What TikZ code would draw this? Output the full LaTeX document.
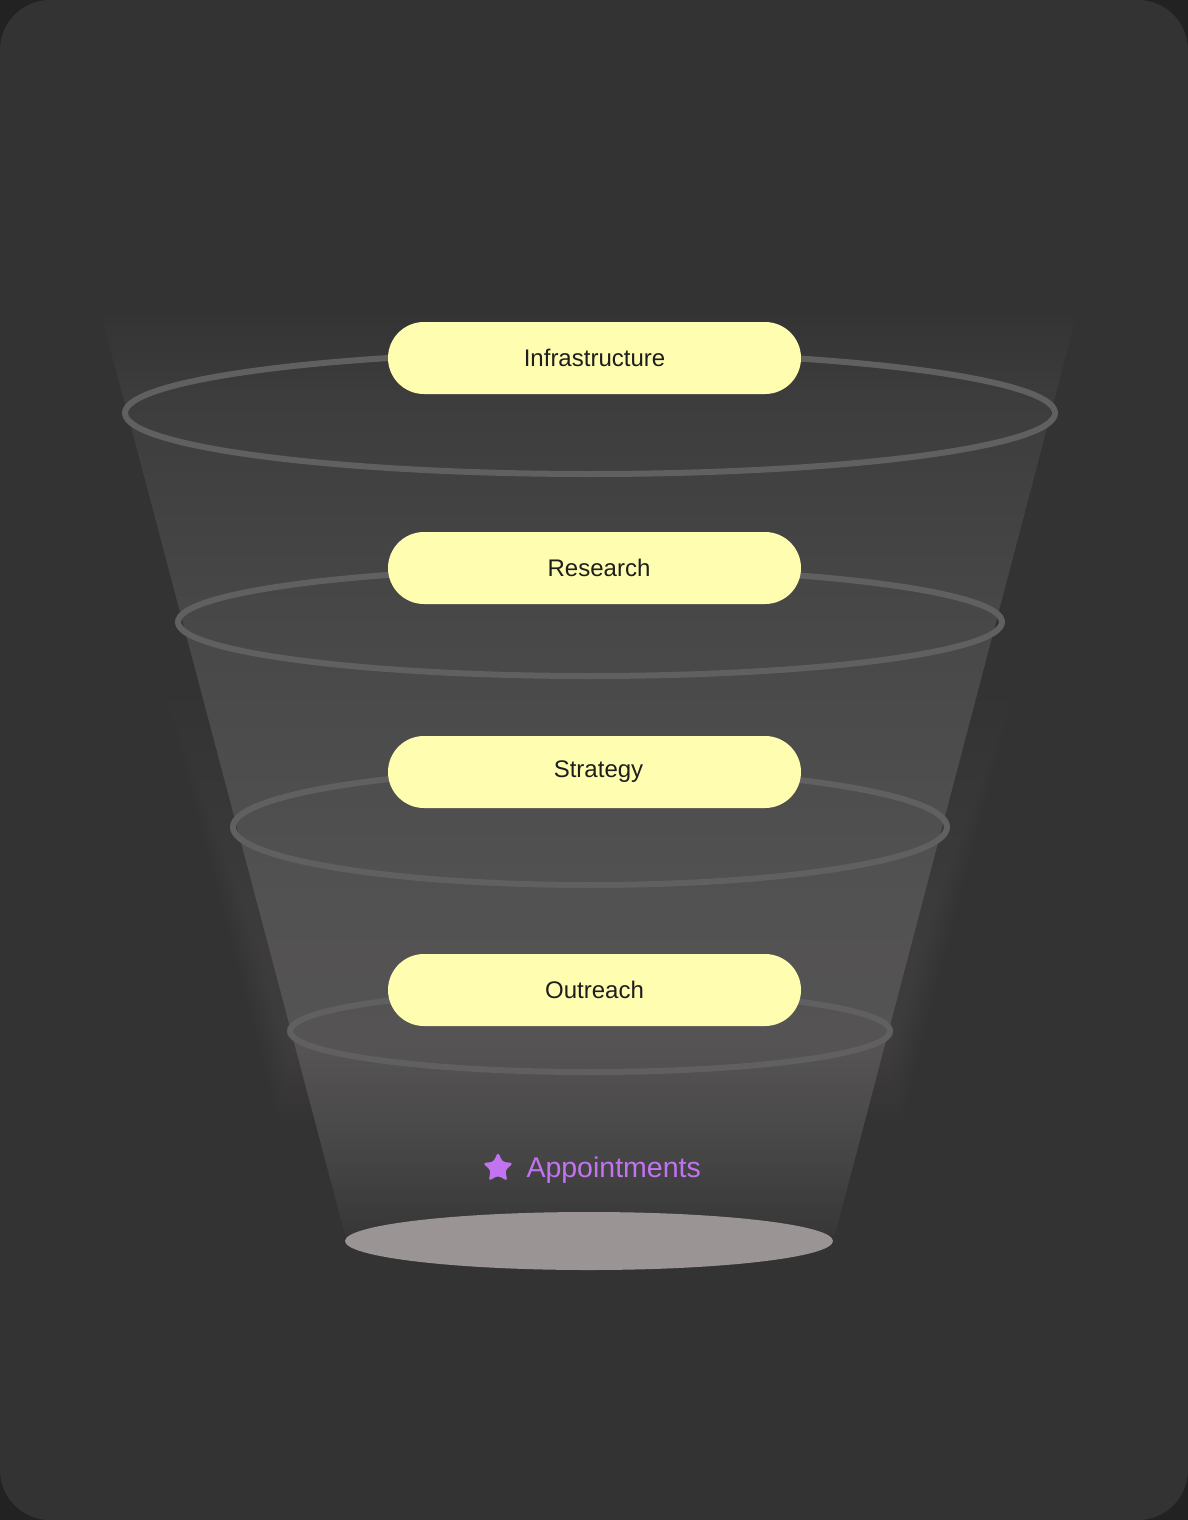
\documentclass[tikz,border=0pt]{standalone}
\usepackage{fontspec}
\setmainfont{Liberation Sans}
\usetikzlibrary{shapes.geometric}

\definecolor{outerbg}{HTML}{222222}
\definecolor{cardbg}{HTML}{333333}
\definecolor{ringgray}{HTML}{606060}
\definecolor{pillyellow}{HTML}{FFFDAF}
\definecolor{pilltext}{HTML}{1E1E1E}
\definecolor{apptpurple}{HTML}{C273F0}
\definecolor{basegray}{HTML}{9A9594}
\definecolor{fntop}{HTML}{333333}
\definecolor{fnhigh}{HTML}{3D3D3D}
\definecolor{fnmid}{HTML}{474747}
\definecolor{fnlow}{HTML}{535252}
\definecolor{fndeep}{HTML}{555353}
\definecolor{fnfade}{HTML}{474646}
\definecolor{fnbot}{HTML}{373737}

\pgfdeclareverticalshading{funnelshade}{100bp}{color(0bp)=(fnbot); color(25bp)=(fnbot);
  color(29.6bp)=(fnfade); color(35bp)=(fndeep); color(43bp)=(fnlow);
  color(59bp)=(fnmid); color(70bp)=(fnhigh); color(75bp)=(fntop); color(100bp)=(fntop)}

\tikzset{
  stage/.style={rectangle, rounded corners=36pt, fill=pillyellow, text=pilltext,
    minimum width=413pt, minimum height=72pt, inner sep=0pt,
    font=\fontsize{24}{28}\selectfont},
  ring/.style={draw=ringgray, line width=6pt},
}

\begin{document}
\begin{tikzpicture}[x=1pt,y=-1pt]
\useasboundingbox (0,0) rectangle (1188,1520);
\fill[outerbg] (0,0) rectangle (1188,1520);
\fill[cardbg, rounded corners=50pt] (0,0) rectangle (1188,1520);

% soft glow round the funnel
\foreach \w in {3,6,...,36}
  \shade[shading=funnelshade, fill opacity=0.045]
    (100-\w,310) -- (1078+\w,310) -- (835+\w,1235) -- (345-\w,1235) -- cycle;
\shade[shading=funnelshade] (100,310) -- (1078,310) -- (835,1235) -- (345,1235) -- cycle;

% rings
\draw[ring] (590,413) ellipse [x radius=465, y radius=61];
\draw[ring] (590,622) ellipse [x radius=412, y radius=54];
\draw[ring] (590,827) ellipse [x radius=357, y radius=58];
\draw[ring] (590,1031) ellipse [x radius=300, y radius=41];

% base
\fill[basegray] (589,1241) ellipse [x radius=244, y radius=29];

% stages
\node[stage] (infra) at (594.5,358) {Infrastructure};
\node[stage] (research) at (594.5,568) {\hspace*{9pt}Research};
\node[stage] (strategy) at (594.5,772) {\hspace*{8pt}Strategy};
\node[stage] (outreach) at (594.5,990) {Outreach};

\node[star, star points=5, star point ratio=2.1, minimum size=32pt, inner sep=0pt,
  fill=apptpurple, rounded corners=3pt] (star) at (498,1168) {};
\node[text=apptpurple, font=\fontsize{28.5}{32}\selectfont, anchor=west] (appt)
  at (523,1170) {Appointments};
\end{tikzpicture}
\end{document}
